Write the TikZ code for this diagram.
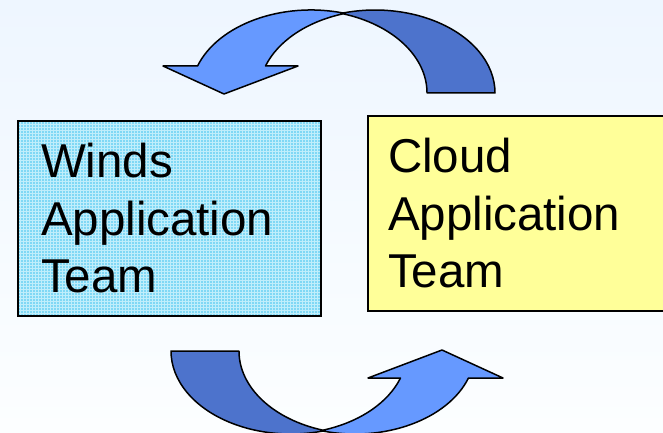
\documentclass[tikz,border=0pt]{standalone}
\usepackage{fontspec}
\setmainfont{Liberation Sans}
\definecolor{sfondoalto}{RGB}{238,246,255}
\definecolor{sfondobasso}{RGB}{252,254,255}
\definecolor{ciano}{RGB}{128,216,245}
\definecolor{cianochiaro}{RGB}{192,238,251}
\definecolor{giallo}{RGB}{255,255,153}
\definecolor{bluchiaro}{RGB}{102,153,255}
\definecolor{bluscuro}{RGB}{77,115,204}
\tikzset{
  riquadro/.style={draw=black,line width=1.5pt,align=left,
    font=\fontsize{47.5}{57.5}\selectfont,minimum height=195pt,inner ysep=0pt},
  fasciascura/.style={fill=bluscuro,draw=black,line width=1.5pt,line join=round},
  fasciachiara/.style={fill=bluchiaro,draw=black,line width=1.5pt,line join=round}
}
%freccia curva: prima la parte dietro, poi quella davanti
\newcommand{\freccia}{%
  \filldraw[fasciascura] (495,93) arc[start angle=0,end angle=-105.5,x radius=120,y radius=83]
    -- (342.1,13.6) arc[start angle=-73,end angle=0,x radius=120,y radius=83] -- cycle;
  \filldraw[fasciachiara] (343.1,13) arc[start angle=-74.5,end angle=-161,x radius=120,y radius=83]
    -- (163,66) -- (224,94) -- (298,66)
    -- (265.5,66) arc[start angle=-161,end angle=-108,x radius=120,y radius=83] -- cycle;
}
\begin{document}
\begin{tikzpicture}[x=1pt,y=-1pt]
                \useasboundingbox (0,0) rectangle (663,433);
                \clip (0,0) rectangle (663,433);
                %sfondo
                \shade[top color=sfondoalto,bottom color=sfondobasso] (0,0) rectangle (663,433);
                %riquadri
                \node[riquadro,fill=ciano,text width=257pt,inner xsep=23pt,
                  path picture={\draw[step=3pt,cianochiaro,line width=0.7pt]
                    (path picture bounding box.south west) grid (path picture bounding box.north east);}]
                  (venti) at (169.5,218.5) {Winds\\Application\\Team};
                \node[riquadro,fill=giallo,text width=292pt,inner xsep=20pt]
                  (nuvole) at (534,213.5) {Cloud\\Application\\Team};
                %frecce
                \freccia
                \begin{scope}[rotate around={180:(333,222)}]
                  \freccia
                \end{scope}
            \end{tikzpicture}
\end{document}
